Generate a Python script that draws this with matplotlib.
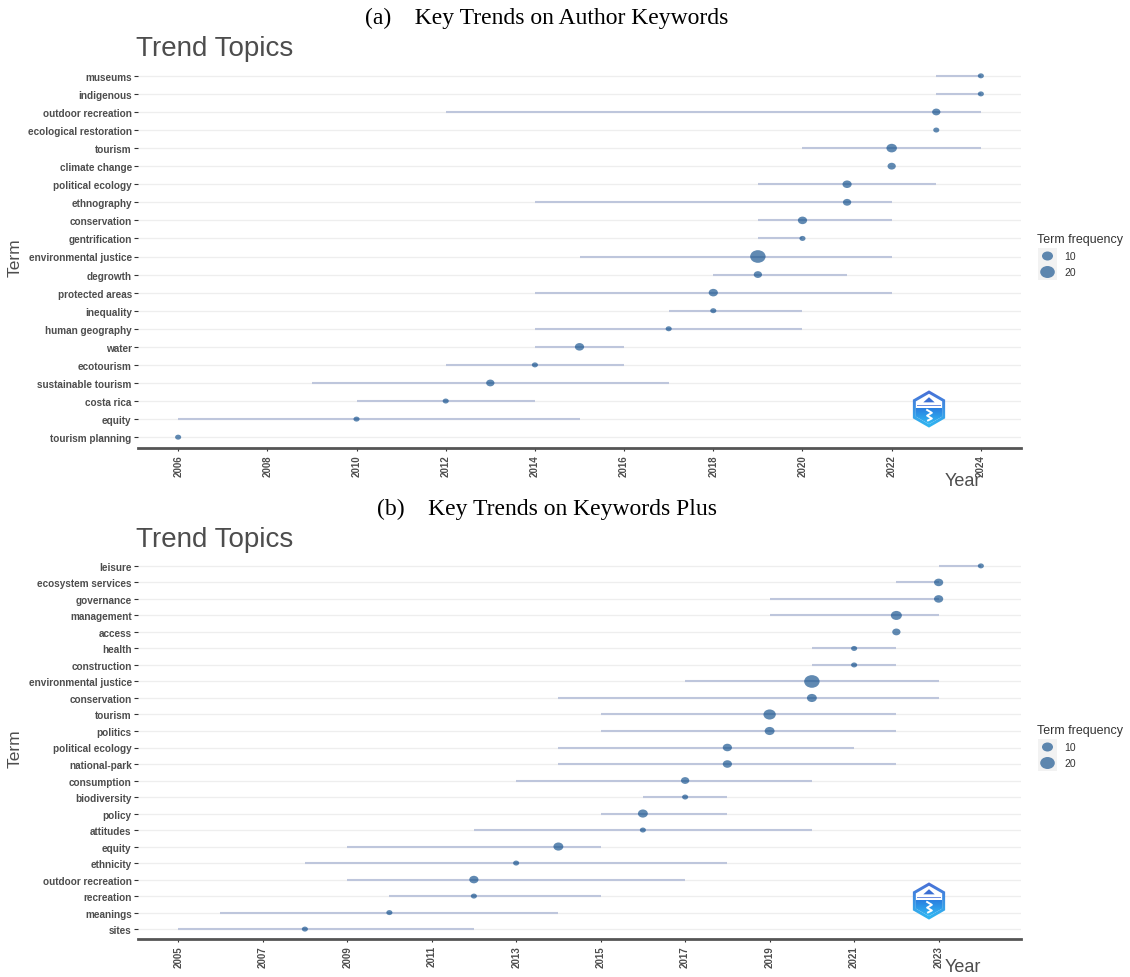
import numpy as np
import matplotlib.pyplot as plt
from matplotlib.path import Path
from matplotlib.patches import RegularPolygon, Rectangle, Polygon
from matplotlib.colors import LinearSegmentedColormap

plt.rcParams.update({'font.family': 'Liberation Sans'})

W, H, DPI = 1130, 978, 100

# author keywords, listed from top to bottom
ak_terms = ['museums', 'indigenous', 'outdoor recreation', 'ecological restoration', 'tourism',
            'climate change', 'political ecology', 'ethnography', 'conservation', 'gentrification',
            'environmental justice', 'degrowth', 'protected areas', 'inequality', 'human geography',
            'water', 'ecotourism', 'sustainable tourism', 'costa rica', 'equity', 'tourism planning']
ak_q1 = [2023, 2023, 2012, 2023, 2020, 2022, 2019, 2014, 2019, 2019, 2015,
         2018, 2014, 2017, 2014, 2014, 2012, 2009, 2010, 2006, 2006]
ak_median = [2024, 2024, 2023, 2023, 2022, 2022, 2021, 2021, 2020, 2020, 2019,
             2019, 2018, 2018, 2017, 2015, 2014, 2013, 2012, 2010, 2006]
ak_q3 = [2024, 2024, 2024, 2023, 2024, 2022, 2023, 2022, 2022, 2020, 2022,
         2021, 2022, 2020, 2020, 2016, 2016, 2017, 2014, 2015, 2006]
ak_freq = [5, 5, 6, 5, 9, 6, 7, 6, 7, 5, 23, 6, 7, 5, 5, 7, 5, 6, 5, 5, 5]
ak_years = list(range(2006, 2025, 2))

# keywords plus, listed from top to bottom
kp_terms = ['leisure', 'ecosystem services', 'governance', 'management', 'access', 'health',
            'construction', 'environmental justice', 'conservation', 'tourism', 'politics',
            'political ecology', 'national-park', 'consumption', 'biodiversity', 'policy',
            'attitudes', 'equity', 'ethnicity', 'outdoor recreation', 'recreation', 'meanings', 'sites']
kp_q1 = [2023, 2022, 2019, 2019, 2022, 2020, 2020, 2017, 2014, 2015, 2015, 2014,
         2014, 2013, 2016, 2015, 2012, 2009, 2008, 2009, 2010, 2006, 2005]
kp_median = [2024, 2023, 2023, 2022, 2022, 2021, 2021, 2020, 2020, 2019, 2019, 2018,
             2018, 2017, 2017, 2016, 2016, 2014, 2013, 2012, 2012, 2010, 2008]
kp_q3 = [2024, 2023, 2023, 2023, 2022, 2022, 2022, 2023, 2023, 2022, 2022, 2021,
         2022, 2020, 2018, 2018, 2020, 2015, 2018, 2017, 2015, 2014, 2012]
kp_freq = [5, 7, 7, 10, 6, 5, 5, 23, 8, 13, 8, 7, 7, 6, 5, 8, 5, 8, 5, 7, 5, 5, 5]
kp_years = list(range(2005, 2024, 2))

legend_freq = [10, 20]

GRAY = '#4d4d4d'
DOT = '#104E8B'
SEG = '#BEC6DC'

# slightly wide ellipse used as point marker
circ = Path.unit_circle()
ELL = Path(circ.vertices * [1.0, 0.82], circ.codes)


def marker_area(freq):
    width_px = 6.1 + 2.2 * np.sqrt(np.clip(np.asarray(freq, float) - 5, 0, None))
    return (width_px * 72 / DPI) ** 2


def trend_panel(ax, terms, q1, med, q3, freq, years):
    n = len(terms)
    y = np.arange(n)[::-1]
    for yy in y:
        ax.axhline(yy, color='#EEEEEE', lw=0.9, zorder=0)
    ax.hlines(y, q1, q3, color=SEG, lw=1.5, zorder=1)
    ax.scatter(med, y, s=marker_area(freq), marker=ELL, color=DOT, alpha=0.66,
               linewidths=0, zorder=2)
    ax.set_ylim(-0.6, n - 0.4)
    lo, hi = min(q1), max(q3)
    span = hi - lo
    ax.set_xlim(lo - 0.05 * span, hi + 0.05 * span)
    ax.set_yticks(y)
    ax.set_yticklabels(terms, fontsize=7.2, fontweight='bold', color=GRAY)
    ax.set_xticks(years)
    ax.set_xticklabels([str(v) for v in years], rotation=90, fontsize=7,
                       fontweight='bold', color=GRAY)
    ax.tick_params(axis='y', length=3, width=0.8, color='#333333', pad=1.5)
    ax.tick_params(axis='x', length=2.5, width=0.8, color='#333333', pad=2)
    for side in ['top', 'right', 'left']:
        ax.spines[side].set_visible(False)
    ax.spines['bottom'].set_color('#555555')
    ax.spines['bottom'].set_linewidth(2)


def draw_logo(cx, cy, r):
    lg = fig.add_axes([(cx - r) / W, 1 - (cy + r) / H, 2 * r / W, 2 * r / H])
    grad = np.linspace(0, 1, 64).reshape(-1, 1)
    outer = RegularPolygon((0, 0), 6, radius=0.98, facecolor='none', edgecolor='none')
    lg.add_patch(outer)
    cm_out = LinearSegmentedColormap.from_list('o', ['#4a6fd6', '#2fb8f2'])
    im = lg.imshow(grad, extent=(-1, 1, -1, 1), cmap=cm_out, aspect='auto', origin='upper', zorder=1)
    im.set_clip_path(outer)
    lg.add_patch(RegularPolygon((0, 0), 6, radius=0.8, facecolor='white', edgecolor='none', zorder=2))
    lower = RegularPolygon((0, 0), 6, radius=0.8, facecolor='none', edgecolor='none')
    lg.add_patch(lower)
    cm_in = LinearSegmentedColormap.from_list('i', ['#2a7fe0', '#33c6f7'])
    im2 = lg.imshow(grad, extent=(-1, 1, -1, 0.05), cmap=cm_in, aspect='auto', origin='upper', zorder=3)
    im2.set_clip_path(lower)
    lg.add_patch(Polygon([[-0.3, 0.35], [0, 0.62], [0.3, 0.35]], closed=True,
                         facecolor='#3b6fd4', edgecolor='none', zorder=4))
    lg.add_patch(Rectangle((-0.62, 0.14), 1.24, 0.09, facecolor='#6f8fe0', edgecolor='none', zorder=4))
    lg.plot([-0.1, 0.15, -0.1, 0.15, -0.05], [-0.05, -0.2, -0.35, -0.5, -0.6],
            color='white', lw=1.4, zorder=5)
    lg.set_xlim(-1, 1)
    lg.set_ylim(-1, 1)
    lg.axis('off')


fig = plt.figure(figsize=(W / DPI, H / DPI), dpi=DPI)
ax_a = fig.add_axes([138 / W, 1 - 449 / H, 883 / W, 383 / H])
ax_b = fig.add_axes([138 / W, 1 - 940 / H, 883 / W, 383 / H])
trend_panel(ax_a, ak_terms, ak_q1, ak_median, ak_q3, ak_freq, ak_years)
trend_panel(ax_b, kp_terms, kp_q1, kp_median, kp_q3, kp_freq, kp_years)

# page-level texts and legends in pixel coordinates
ov = fig.add_axes([0, 0, 1, 1])
ov.set_xlim(0, W)
ov.set_ylim(H, 0)
ov.axis('off')

panels = [('(a)    Key Trends on Author Keywords', 0, 482),
          ('(b)    Key Trends on Keywords Plus', 491, 967)]
for title, dy, year_y in panels:
    ov.text(547, 18 + dy, title, ha='center', va='center', fontsize=17,
            family='Liberation Serif', color='black')
    ov.text(136, 49 + dy, 'Trend Topics', ha='left', va='center', fontsize=20, color=GRAY)
    ov.text(15, 258 + dy, 'Term', ha='center', va='center', rotation=90, fontsize=12.5, color=GRAY)
    ov.text(963, year_y, 'Year', ha='center', va='center', fontsize=13, color=GRAY)
    ov.text(1037, 240 + dy, 'Term frequency', ha='left', va='center', fontsize=9, color='#333333')
    key_y = [257 + dy, 273 + dy]
    for ky, lab in zip(key_y, legend_freq):
        ov.add_patch(Rectangle((1038, ky - 8), 19, 16, facecolor='#F2F2F2', edgecolor='none'))
        ov.text(1064, ky, str(lab), ha='left', va='center', fontsize=7.5, color='#333333')
    ov.scatter([1047.5] * 2, key_y, s=marker_area(legend_freq), marker=ELL, color=DOT,
               alpha=0.66, linewidths=0, zorder=3)

draw_logo(929, 410, 19)
draw_logo(929, 902, 19)

fig.savefig('out.png', dpi=DPI, facecolor='white')
